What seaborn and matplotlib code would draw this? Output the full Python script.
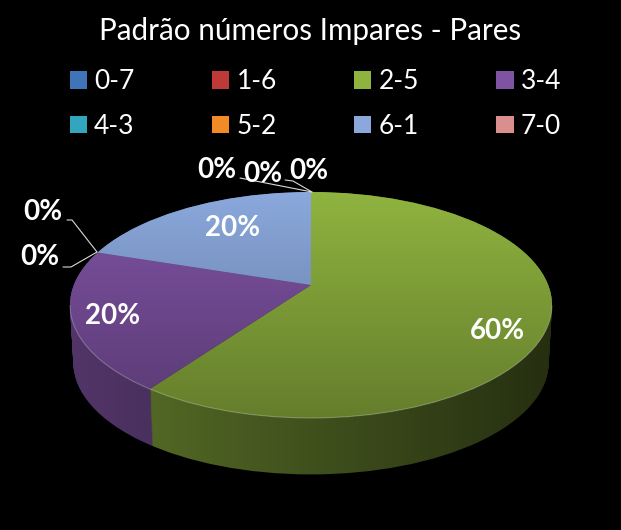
import numpy as np
import matplotlib
matplotlib.use("Agg")
import matplotlib.pyplot as plt
from matplotlib.patches import Ellipse, Arc, Patch
import seaborn as sns

# Chart data
title = "Padrão números Impares - Pares"
categories = ["0-7", "1-6", "2-5", "3-4", "4-3", "5-2", "6-1", "7-0"]
values = [0, 0, 3, 1, 0, 0, 1, 0]
colors = ["#3F75B8", "#BE3A38", "#8FB33F", "#7F53A4", "#33A6BF", "#F28A25", "#8AA8DC", "#D98F8D"]

W, H = 621, 530
CX, CY = 311, 305      # centre of the top ellipse, pixels
RX, RY = 241, 113      # radii of the top ellipse, pixels
APEX = 20 / RY         # the slices meet above the ellipse centre (perspective)
DEPTH = 58 / RY        # thickness of the pie


def to_x(px):
    return (px - CX) / RX


def to_y(py):
    return (CY - py) / RY


sns.set_style("dark", rc={"figure.facecolor": "black", "axes.facecolor": "black"})
plt.rcParams["font.family"] = ["Lato", "DejaVu Sans"]
palette = sns.color_palette(colors)

fig = plt.figure(figsize=(W / 100, H / 100), dpi=100, facecolor="black")
ax = fig.add_axes([0, 0, 1, 1])


def draw_pie(shift, scale, cols, z):
    clip = Ellipse((0, -shift), 2 * scale, 2 * scale, transform=ax.transData)
    wedges, _ = ax.pie(values, colors=cols, startangle=90, counterclock=False,
                       radius=3, center=(0, APEX - shift), wedgeprops={"linewidth": 0})
    for w in wedges:
        # pie turns clipping off on its wedges
        w.set_clip_on(True)
        w.set_clip_path(clip)
        w.set_zorder(z)
    return clip


# Side wall: stacked dark copies of the pie, from the bottom up
side_cols = [tuple(np.array(c) * 0.66) for c in palette]
layers = np.linspace(DEPTH, 0, 59)
for i, d in enumerate(layers):
    draw_pie(d, 1 - 0.014 * d / DEPTH, side_cols, 1 + i * 0.001)

# Side wall shading, darker to the right
side_shade = np.zeros((1, 256, 4))
side_shade[..., 3] = np.linspace(0.02, 0.62, 256)
side_img = ax.imshow(side_shade, extent=(-1.05, 1.05, -1.7, 0.2), aspect="auto", zorder=2)
xs_side = np.linspace(-1, 1, 300)
side_clip = ax.fill_between(xs_side, 0, -DEPTH - np.sqrt(1 - xs_side ** 2),
                            color="none", linewidth=0)
side_img.set_clip_path(side_clip.get_paths()[0], transform=ax.transData)

# Top face
top_clip = draw_pie(0, 1, palette, 3)

# Top face shading, darker to the bottom
top_shade = np.zeros((256, 1, 4))
top_shade[..., 3] = np.linspace(0, 0.3, 256)[:, None]
top_img = ax.imshow(top_shade, extent=(-1, 1, -1, 1), aspect="auto", zorder=4)
top_img.set_clip_path(top_clip)

# Light rim on the front edge
ax.add_patch(Arc((0, 0), 2, 2, theta1=180, theta2=360, color="white", alpha=0.25, lw=0.8, zorder=5))

ax.set_aspect("auto")
ax.set_xlim(to_x(0), to_x(W))
ax.set_ylim(to_y(H), to_y(0))
ax.axis("off")

# Leader lines of the empty slices
leaders = [
    ([67, 72, 97], [220, 220, 252]),
    ([63, 71, 97], [267, 267, 252]),
    ([240, 312], [178, 192]),
    ([285, 293, 312], [180, 181, 192]),
]
for xs, ys in leaders:
    ax.plot(to_x(np.array(xs)), to_y(np.array(ys)), color="#d9d9d9", lw=0.8, zorder=6)

# Percent labels, per category
label_pos = {
    "0-7": (217, 170), "1-6": (263, 174), "2-5": (497, 331), "3-4": (113, 316),
    "4-3": (40, 257), "5-2": (43, 212), "6-1": (233, 228), "7-0": (309, 171),
}
total = sum(values)
for cat, v in zip(categories, values):
    x, y = label_pos[cat]
    ax.text(to_x(x), to_y(y), f"{v / total:.0%}", color="white", fontsize=20, fontweight="bold",
            ha="center", va="center", zorder=7)

fig.text(310 / W, 1 - 31 / H, title, color="white", fontsize=21.3, ha="center", va="center")

# Legend fills column by column, so reorder to read row by row
handles = [Patch(facecolor=c, edgecolor="none", label=n) for c, n in zip(palette, categories)]
order = [0, 4, 1, 5, 2, 6, 3, 7]
fig.legend([handles[i] for i in order], [categories[i] for i in order], ncol=4,
           loc="center", bbox_to_anchor=(315.5 / W, 1 - 104 / H), frameon=False,
           fontsize=19, labelcolor="white", handlelength=0.65, handleheight=0.65,
           handletextpad=0.28, columnspacing=2.93, labelspacing=0.74)

fig.savefig("out.png", dpi=100, facecolor="black")
